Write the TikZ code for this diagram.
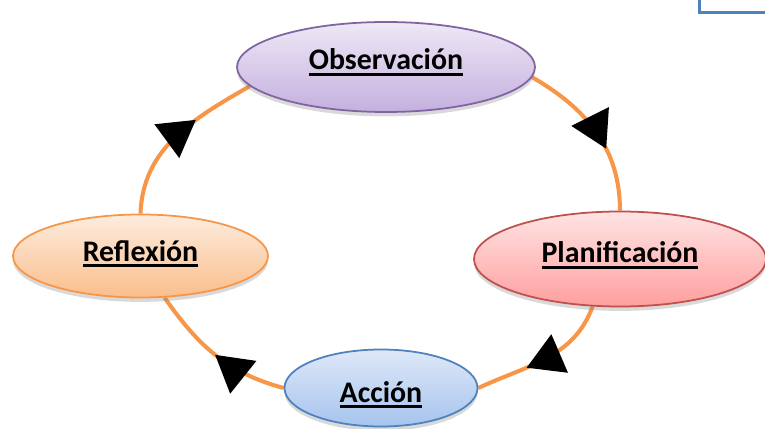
\documentclass[tikz,border=0pt]{standalone}
\usepackage{fontspec}
\setmainfont{Carlito}
\usetikzlibrary{positioning, shapes.geometric, arrows.meta, decorations.markings, shadows, backgrounds}
\definecolor{loopor}{RGB}{247,150,70}
\definecolor{obsline}{RGB}{128,100,162}
\definecolor{planline}{RGB}{192,80,77}
\definecolor{accline}{RGB}{79,129,189}
\newcommand{\fatul}[2][3pt]{\raisebox{#1}[\height][\depth]{\setbox0=\hbox{#2}\vtop{\copy0\kern1.7pt\hrule height1.7pt width\wd0}}}
\tikzset{
    stage/.style={ellipse, draw, line width=1pt, inner sep=0pt, shading=axis,
        font=\fontsize{17}{20}\selectfont\bfseries,
        drop shadow={opacity=0.3, shadow xshift=0pt, shadow yshift=-2.5pt}},
    loopline/.style={draw=loopor, line width=2.3pt, postaction={decorate},
        decoration={markings, mark=at position #1 with {\arrow[black]{Triangle[length=0.72cm,width=0.82cm]}}}},
    loopline/.default=0.55
}
\begin{document}
\begin{tikzpicture}
            \useasboundingbox (0,0) rectangle (15.3,-8.58);
            \node[stage, draw=obsline, top color={rgb,255:red,238;green,232;blue,246}, bottom color={rgb,255:red,196;green,176;blue,222}, minimum width=5.96cm, minimum height=1.8cm] (obs) at (7.72,-1.34) {\fatul[2.5pt]{Observación}};
            \node[stage, draw=planline, top color={rgb,255:red,255;green,228;blue,228}, bottom color={rgb,255:red,255;green,158;blue,158}, minimum width=5.84cm, minimum height=1.9cm] (plan) at (12.4,-5.18) {\fatul[2pt]{Planificación}};
            \node[stage, draw=accline, top color={rgb,255:red,222;green,232;blue,248}, bottom color={rgb,255:red,166;green,196;blue,238}, minimum width=3.86cm, minimum height=1.54cm] (acc) at (7.62,-7.76) {\fatul[-3.8pt]{Acción}};
            \node[stage, draw=loopor, top color={rgb,255:red,253;green,236;blue,222}, bottom color={rgb,255:red,250;green,190;blue,140}, minimum width=5.1cm, minimum height=1.66cm] (ref) at (2.81,-5.12) {\fatul[1.3pt]{Reflexión}};
            \begin{scope}[on background layer]
                \draw[loopline=0.62] (obs.-4) to[out=-30,in=90] (plan.north);
                \draw[loopline=0.64] (plan.-120) to[out=-110,in=25] (acc.east);
                \draw[loopline=0.5] (acc.west) to[out=165,in=-55] (ref.-60);
                \draw[loopline=0.64] (ref.north) to[out=88,in=-150] (obs.188);
            \end{scope}
            \draw[accline, line width=0.06cm] (13.99,0.6) rectangle (15.8,-0.25);
        \end{tikzpicture}
\end{document}
